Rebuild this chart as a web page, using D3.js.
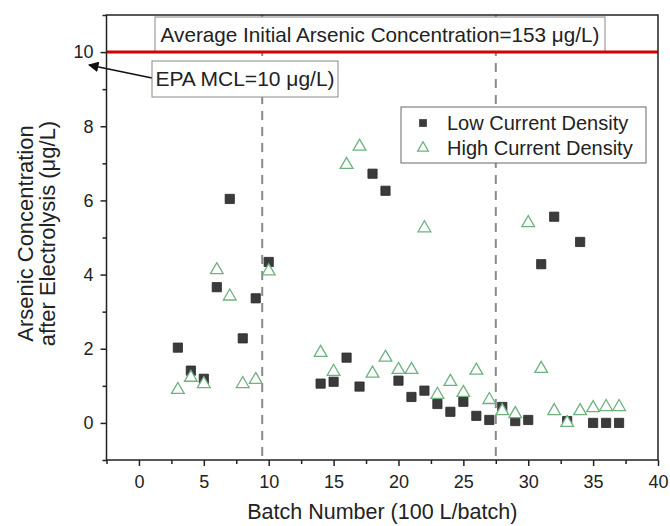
<!DOCTYPE html>
<html><head><meta charset="utf-8">
<script src="https://cdn.jsdelivr.net/npm/d3@7"></script>
<style>
html,body{margin:0;padding:0;background:#fff;}
svg text{font-family:"Liberation Sans",Arial,sans-serif;fill:#222;}
</style></head>
<body><svg id="chart" width="670" height="526"></svg>
<script>
const batches = [3,4,5,6,7,8,9,10,14,15,16,17,18,19,20,21,22,23,24,25,26,27,28,29,30,31,32,33,34,35,36,37];
const lowCurrent = [2.03,1.41,1.19,3.66,6.04,2.28,3.36,4.34,1.06,1.11,1.76,0.98,6.72,6.26,1.14,0.70,0.87,0.51,0.30,0.57,0.19,0.08,0.43,0.05,0.08,4.28,5.56,0.05,4.88,0,0,0];
const highCurrent = [0.92,1.25,1.08,4.15,3.44,1.08,1.19,4.12,1.92,1.41,6.99,7.48,1.36,1.79,1.46,1.46,5.28,0.79,1.14,0.84,1.44,0.65,0.35,0.27,5.42,1.49,0.35,0.03,0.35,0.43,0.46,0.46];
const xTicks = [0,5,10,15,20,25,30,35,40];
const xMinor = [-2.5,2.5,7.5,12.5,17.5,22.5,27.5,32.5,37.5];
const yTicks = [0,2,4,6,8,10];
const yMinor = [-1,1,3,5,7,9,11];
const phaseBreaks = [9.5, 27.5];
const mcl = 10;
const seriesNames = ["Low Current Density","High Current Density"];
const topNote = "Average Initial Arsenic Concentration=153 \u03BCg/L)";
const mclNote = "EPA MCL=10 \u03BCg/L)";

const svg = d3.select("#chart");
const L = 106.5, R = 658, T = 15, B = 460;
const x = d3.scaleLinear().domain([-2.5, 40]).range([L, R]);
const y = d3.scaleLinear().domain([-1, 11]).range([B, T]);

// axes
const gx = svg.append("g").attr("transform", `translate(0,${B})`);
gx.call(d3.axisBottom(x).tickValues(xTicks).tickSize(6).tickPadding(9).tickFormat(d3.format("d")));
gx.append("g").call(d3.axisBottom(x).tickValues(xMinor).tickSize(4).tickFormat(""));
const gy = svg.append("g").attr("transform", `translate(${L},0)`);
gy.call(d3.axisLeft(y).tickValues(yTicks).tickSize(6).tickPadding(7).tickFormat(d3.format("d")));
gy.append("g").call(d3.axisLeft(y).tickValues(yMinor).tickSize(4).tickFormat(""));
svg.selectAll(".domain").remove();
svg.selectAll(".tick line").attr("stroke", "#222").attr("stroke-width", 1.5);
svg.selectAll(".tick text").attr("font-size", 18).attr("fill", "#222").style("font-family", '"Liberation Sans",Arial,sans-serif');

// phase dashed lines
svg.selectAll(".phase").data(phaseBreaks).join("line")
  .attr("x1", d => x(d)).attr("x2", d => x(d)).attr("y1", T).attr("y2", B)
  .attr("stroke", "#8a8a8a").attr("stroke-width", 2).attr("stroke-dasharray", "9,7");

// top annotation box
const topG = svg.append("g");
topG.append("rect").attr("x", 155).attr("y", 17).attr("width", 450).attr("height", y(mcl) - 17)
  .attr("fill", "#fff").attr("stroke", "#888").attr("stroke-width", 1);
topG.append("text").attr("x", 380).attr("y", 42).attr("text-anchor", "middle").attr("font-size", 20.7).text(topNote);

// MCL red line
svg.append("line").attr("x1", L).attr("x2", R).attr("y1", y(mcl)).attr("y2", y(mcl))
  .attr("stroke", "#d40000").attr("stroke-width", 3);

// MCL annotation
svg.append("defs").append("marker").attr("id", "arr").attr("viewBox", "0 0 10 10")
  .attr("refX", 9).attr("refY", 5).attr("markerWidth", 7).attr("markerHeight", 7).attr("orient", "auto-start-reverse")
  .append("path").attr("d", "M0,0 L10,5 L0,10 z").attr("fill", "#111");
svg.append("line").attr("x1", 152).attr("y1", 78).attr("x2", 89).attr("y2", 65)
  .attr("stroke", "#111").attr("stroke-width", 1.5).attr("marker-end", "url(#arr)");
svg.append("rect").attr("x", 152).attr("y", 61).attr("width", 186).attr("height", 36)
  .attr("fill", "#fff").attr("stroke", "#888").attr("stroke-width", 1);
svg.append("text").attr("x", 245).attr("y", 86).attr("text-anchor", "middle").attr("font-size", 21).text(mclNote);

// data
const lowData = batches.map((b, i) => ({b, v: lowCurrent[i]}));
const highData = batches.map((b, i) => ({b, v: highCurrent[i]}));
const sq = d3.symbol().type(d3.symbolSquare).size(85);
const tri = d3.symbol().type(d3.symbolTriangle).size(70);
svg.append("g").selectAll("path").data(lowData).join("path")
  .attr("d", sq).attr("transform", d => `translate(${x(d.b)},${y(d.v)})`)
  .attr("fill", "#3b3b3b").attr("stroke", "#2a2a2a").attr("stroke-width", 0.8);
svg.append("g").selectAll("path").data(highData).join("path")
  .attr("d", tri).attr("transform", d => `translate(${x(d.b)},${y(d.v)+1})`)
  .attr("fill", "#fff").attr("stroke", "#6db27f").attr("stroke-width", 1.3);

// legend
const lg = svg.append("g");
lg.append("rect").attr("x", 401).attr("y", 107).attr("width", 245).attr("height", 56)
  .attr("fill", "#fff").attr("stroke", "#666").attr("stroke-width", 1);
lg.append("path").attr("d", d3.symbol().type(d3.symbolSquare).size(60)).attr("transform", "translate(423,123)").attr("fill", "#3b3b3b");
lg.append("path").attr("d", d3.symbol().type(d3.symbolTriangle).size(50)).attr("transform", "translate(423,148)")
  .attr("fill", "#fff").attr("stroke", "#6db27f").attr("stroke-width", 1.3);
lg.append("text").attr("x", 447).attr("y", 130).attr("font-size", 20).text(seriesNames[0]);
lg.append("text").attr("x", 447).attr("y", 155).attr("font-size", 20).text(seriesNames[1]);

// plot frame
svg.append("rect").attr("x", L).attr("y", T).attr("width", R - L).attr("height", B - T)
  .attr("fill", "none").attr("stroke", "#222").attr("stroke-width", 1.5);

// axis titles
svg.append("text").attr("x", (L + R) / 2).attr("y", 519).attr("text-anchor", "middle").attr("font-size", 21.5).text("Batch Number (100 L/batch)");
const yt = svg.append("text").attr("transform", `translate(33,${(T + B) / 2 - 4}) rotate(-90)`).attr("text-anchor", "middle").attr("font-size", 22);
yt.append("tspan").attr("x", 0).attr("y", 0).text("Arsenic Concentration");
yt.append("tspan").attr("x", 0).attr("y", 22).text("after Electrolysis (\u03BCg/L)");
</script></body></html>
